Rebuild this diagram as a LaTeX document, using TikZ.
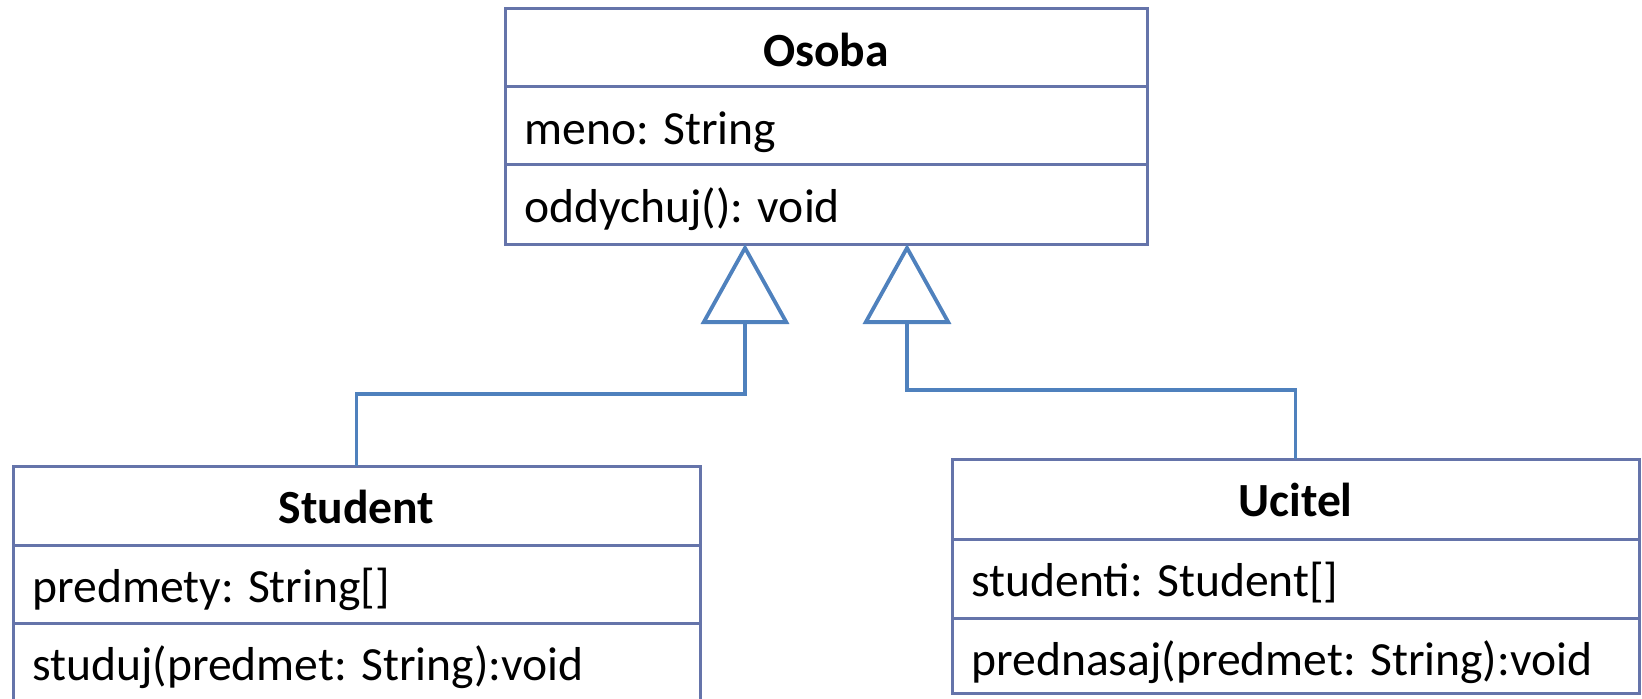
\documentclass[tikz,border=0pt]{standalone}
\usepackage{fontspec}
\setmainfont{Carlito}
\usetikzlibrary{arrows.meta}
\definecolor{boxc}{RGB}{101,116,170}
\definecolor{linec}{RGB}{79,129,189}
\tikzset{
  comp/.style n args={2}{draw=boxc, line width=1.5pt, rectangle, inner sep=0pt, outer sep=0pt,
    anchor=north west, minimum width=#1*0.5pt, minimum height=#2*0.5pt},
  head/.style={anchor=base, inner sep=0pt, font=\fontsize{23.8}{28}\selectfont\bfseries},
  member/.style={anchor=base west, inner sep=0pt, font=\fontsize{23.8}{28}\selectfont},
  conn/.style={draw=linec, line width=1.9pt, -{Triangle[open, length=40pt, width=44pt]}}
}
\begin{document}
\begin{tikzpicture}[x=0.5pt, y=-0.5pt]
\useasboundingbox (0,0) rectangle (1642,698);
\clip (0,0) rectangle (1642,698);
% Osoba
\node[comp={642}{78}] (os1) at (505,8) {};
\node[comp={642}{78}] (os2) at (505,86) {};
\node[comp={642}{80}] (os3) at (505,164) {};
\node[head] (osT) at (826,66) {Osoba};
\node[member] (osA) at (524,144) {meno: String};
\node[member] (osO) at (524,222) {oddychuj(): void};
% Student
\node[comp={687}{79}] (st1) at (13,466) {};
\node[comp={687}{78}] (st2) at (13,545) {};
\node[comp={687}{82}] (st3) at (13,623) {};
\node[head] (stT) at (356.5,523.5) {Student};
\node[member] (stA) at (32,602.5) {predmety: String[]};
\node[member] (stO) at (32,680.5) {studuj(predmet: String):void};
% Ucitel
\node[comp={687}{80}] (uc1) at (952,459) {};
\node[comp={687}{79}] (uc2) at (952,539) {};
\node[comp={687}{75}] (uc3) at (952,618) {};
\node[head] (ucT) at (1295.5,516.5) {Ucitel};
\node[member] (ucA) at (971,596) {studenti: Student[]};
\node[member] (ucO) at (971,675) {prednasaj(predmet: String):void};
% attachment points on Osoba
\coordinate (oL) at ([xshift=-40.5pt]os3.south);
\coordinate (oR) at ([xshift=40.5pt]os3.south);
% generalisations
\draw[conn] (st1.north) -- ++(0,-72) -| (oL);
\draw[conn] (uc1.north) -- ++(0,-69) -| (oR);
\end{tikzpicture}
\end{document}
